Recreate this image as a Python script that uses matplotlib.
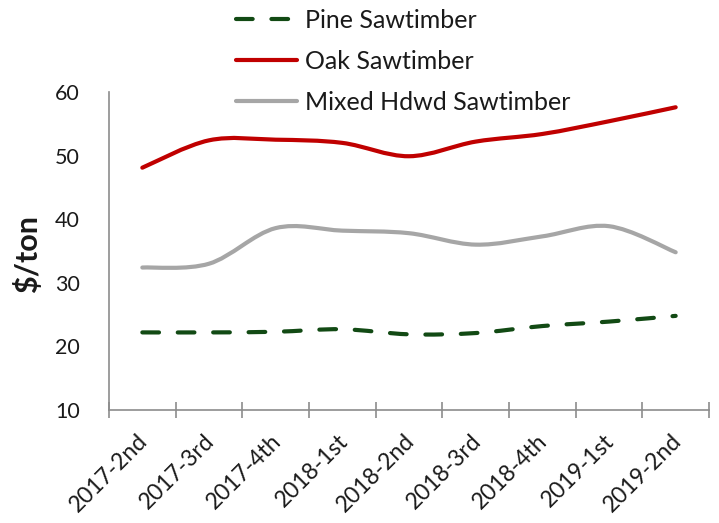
import matplotlib
matplotlib.use('Agg')
import matplotlib.pyplot as plt
import matplotlib.transforms as mtransforms
from matplotlib.path import Path
from matplotlib.patches import PathPatch
from matplotlib.lines import Line2D

# data ($/ton per quarter)
quarters = ['2017-2nd', '2017-3rd', '2017-4th', '2018-1st', '2018-2nd',
            '2018-3rd', '2018-4th', '2019-1st', '2019-2nd']
pine = [22.2, 22.2, 22.3, 22.7, 21.9, 22.1, 23.2, 23.9, 24.8]
oak = [48.1, 52.4, 52.5, 52.0, 49.9, 52.2, 53.4, 55.4, 57.6]
mixed = [32.4, 33.0, 38.6, 38.2, 37.8, 36.0, 37.3, 38.9, 34.8]
yticks = [10, 20, 30, 40, 50, 60]

plt.rcParams['font.family'] = ['Lato', 'DejaVu Sans']
txt_col = '#1a1a1a'
axis_col = '#8c8c8c'


def smooth_path(xs, ys):
    # excel style smoothed line: cubic bezier through every point
    n = len(xs)
    verts = [(xs[0], ys[0])]
    codes = [Path.MOVETO]
    for i in range(n - 1):
        p0 = (xs[max(i - 1, 0)], ys[max(i - 1, 0)])
        p1 = (xs[i], ys[i])
        p2 = (xs[i + 1], ys[i + 1])
        p3 = (xs[min(i + 2, n - 1)], ys[min(i + 2, n - 1)])
        c1 = (p1[0] + (p2[0] - p0[0]) / 6, p1[1] + (p2[1] - p0[1]) / 6)
        c2 = (p2[0] - (p3[0] - p1[0]) / 6, p2[1] - (p3[1] - p1[1]) / 6)
        verts += [c1, c2, p2]
        codes += [Path.CURVE4] * 3
    return Path(verts, codes)


fig = plt.figure(figsize=(7.19, 5.23), dpi=100)
ax = fig.add_axes([109 / 719, 1 - 410 / 523, 600 / 719, 318 / 523])

x = list(range(len(quarters)))
styles = [
    ('Pine Sawtimber', pine, '#124a14', (0, (4, 4.5))),
    ('Oak Sawtimber', oak, '#c00000', '-'),
    ('Mixed Hdwd Sawtimber', mixed, '#a6a6a6', '-'),
]
handles = []
for name, vals, col, ls in styles:
    patch = PathPatch(smooth_path(x, vals), fill=False, edgecolor=col,
                      linewidth=3, linestyle=ls, capstyle='round',
                      joinstyle='round', zorder=3)
    ax.add_patch(patch)
    handles.append(Line2D([], [], color=col, linewidth=3, linestyle=ls,
                          dash_capstyle='round', solid_capstyle='round'))

ax.set_xlim(-0.5, len(quarters) - 0.5)
ax.set_ylim(10, 60)
ax.set_yticks(yticks)
ax.tick_params(axis='y', length=0, pad=21, labelsize=15.5, labelcolor=txt_col)

# category boundaries carry the tick marks, centres carry the labels
ax.set_xticks([i - 0.5 for i in range(len(quarters) + 1)])
ax.set_xticklabels([])
ax.set_xticks(x, minor=True)
ax.set_xticklabels(quarters, minor=True, rotation=45, ha='right',
                   va='center', rotation_mode='anchor')
ax.tick_params(axis='x', which='major', direction='inout', length=11,
               width=1.2, color=axis_col)
ax.tick_params(axis='x', which='minor', length=0, pad=20, labelsize=16.5,
               labelcolor=txt_col)
offset = mtransforms.ScaledTranslation(2 / 100, 0, fig.dpi_scale_trans)
for lab in ax.get_xticklabels(minor=True):
    lab.set_transform(lab.get_transform() + offset)

for side in ['top', 'right']:
    ax.spines[side].set_visible(False)
for side in ['left', 'bottom']:
    ax.spines[side].set_color(axis_col)
    ax.spines[side].set_linewidth(1.2)

fig.text(28 / 719, 1 - 254 / 523, '$/ton', rotation=90, ha='center',
         va='center', fontsize=22, fontweight='bold', color=txt_col)

fig.legend(handles, [s[0] for s in styles], loc='upper left',
           bbox_to_anchor=(236 / 719, 1 - 9 / 523), frameon=False,
           fontsize=18, handlelength=2.45, handletextpad=0.3,
           labelspacing=0.72, borderpad=0, borderaxespad=0,
           labelcolor=txt_col)

fig.savefig('out.png', dpi=100)
